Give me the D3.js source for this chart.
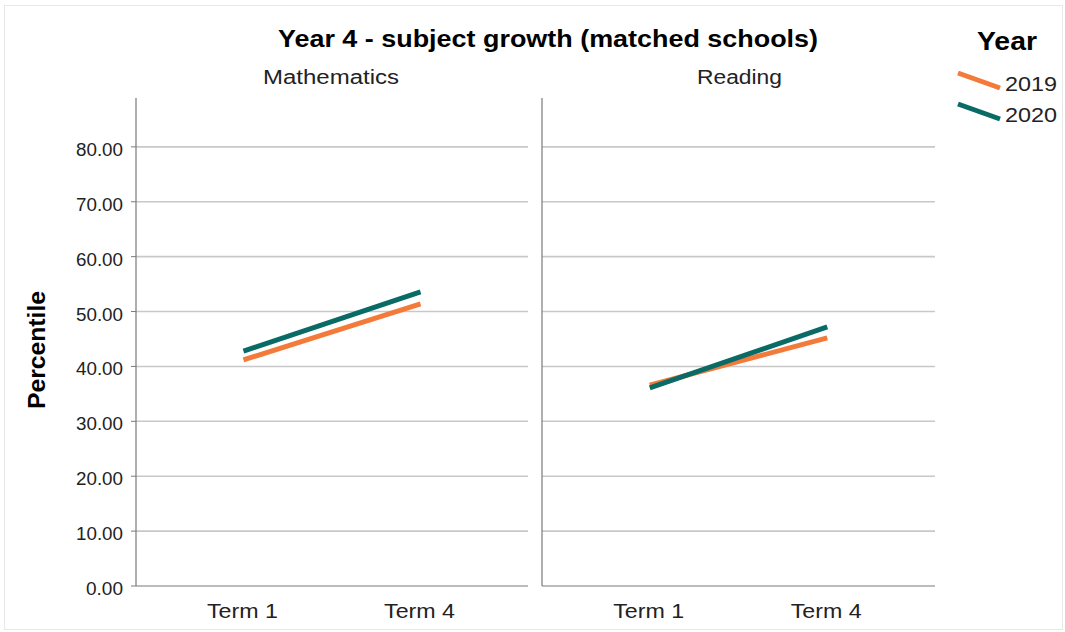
<!DOCTYPE html>
<html><head><meta charset="utf-8">
<script src="https://cdn.jsdelivr.net/npm/d3@7"></script>
<style>body{margin:0;background:#fff;} svg{display:block;font-family:"Liberation Sans",Arial,sans-serif;}</style>
</head><body><svg id="c" width="1065" height="632"></svg>
<script>
const subjects = ["Mathematics", "Reading"];
const terms = ["Term 1", "Term 4"];
const years = ["2019", "2020"];
const math2019 = [41.2, 51.4];
const math2020 = [42.8, 53.6];
const reading2019 = [36.6, 45.2];
const reading2020 = [36.1, 47.2];
const yTicks = [0, 10, 20, 30, 40, 50, 60, 70, 80];
const colors = ["#f47a3a", "#0a6b66"];

const seriesBySubject = {
  "Mathematics": [math2019, math2020],
  "Reading": [reading2019, reading2020]
};

function fit(sel, len) {
  sel.attr("textLength", len).attr("lengthAdjust", "spacingAndGlyphs");
  return sel;
}

const svg = d3.select("#c");
svg.append("rect").attr("x",4.5).attr("y",5.5).attr("width",1058).attr("height",624)
  .attr("fill","#fff").attr("stroke","#e8e8e8");

const plotTop = 98, plotBottom = 586;
const y = d3.scaleLinear().domain([0, 88.9]).range([plotBottom, plotTop]);
const panels = [[136, 528], [542, 935]];

fit(svg.append("text").attr("x",548).attr("y",47).attr("text-anchor","middle")
  .attr("font-size",23).attr("font-weight","bold").attr("fill","#000")
  .text("Year 4 - subject growth (matched schools)"), 540);

const titleLen = {"Mathematics": 136, "Reading": 85};

subjects.forEach((s, i) => {
  const [x0, x1] = panels[i];
  const x = d3.scalePoint().domain(terms).range([x0, x1]).padding(0.607);
  const g = svg.append("g");
  g.selectAll("line.grid").data(yTicks.filter(t => t > 0)).join("line")
    .attr("x1", x0).attr("x2", x1).attr("y1", d => y(d)).attr("y2", d => y(d))
    .attr("stroke", "#c8c8c8").attr("stroke-width", 1.6);
  g.append("line").attr("x1", x0).attr("x2", x0).attr("y1", plotTop).attr("y2", plotBottom)
    .attr("stroke", "#7a7a7a").attr("stroke-width", 1.2);
  g.append("line").attr("x1", x0).attr("x2", x1).attr("y1", plotBottom).attr("y2", plotBottom)
    .attr("stroke", "#7a7a7a").attr("stroke-width", 1.2);
  g.selectAll("text.xl").data(terms).join("text")
    .attr("x", d => x(d) - 1).attr("y", 618).attr("text-anchor", "middle")
    .attr("font-size", 20).attr("fill", "#222")
    .attr("textLength", 71).attr("lengthAdjust", "spacingAndGlyphs").text(d => d);
  fit(g.append("text").attr("x", (x0 + x1) / 2 + (i === 0 ? -1 : 1)).attr("y", 84).attr("text-anchor", "middle")
    .attr("font-size", 20).attr("fill", "#222").text(s), titleLen[s]);
  const line = d3.line().x((d, j) => x(terms[j])).y(d => y(d));
  seriesBySubject[s].forEach((vals, k) => {
    g.append("path").datum(vals).attr("d", line).attr("fill", "none")
      .attr("stroke", colors[k]).attr("stroke-width", 5);
  });
});

const ya = svg.append("g");
ya.selectAll("line").data(yTicks).join("line")
  .attr("x1", 131).attr("x2", 136).attr("y1", d => y(d)).attr("y2", d => y(d))
  .attr("stroke", "#7a7a7a").attr("stroke-width", 1);
ya.selectAll("text").data(yTicks).join("text")
  .attr("x", 123).attr("y", d => y(d) + 9).attr("text-anchor", "end")
  .attr("font-size", 18).attr("fill", "#222")
  .attr("textLength", d => d === 0 ? 37 : 47).attr("lengthAdjust", "spacingAndGlyphs")
  .text(d => d.toFixed(2));

fit(svg.append("text").attr("transform", "translate(45,350) rotate(-90)")
  .attr("text-anchor", "middle").attr("font-size", 23).attr("font-weight", "bold")
  .attr("fill", "#000").text("Percentile"), 118);

fit(svg.append("text").attr("x", 1007).attr("y", 50).attr("text-anchor", "middle")
  .attr("font-size", 26).attr("font-weight", "bold").attr("fill", "#000").text("Year"), 60);
years.forEach((yr, k) => {
  const ly = 73 + k * 31;
  svg.append("line").attr("x1", 958).attr("y1", ly).attr("x2", 1000).attr("y2", ly + 15)
    .attr("stroke", colors[k]).attr("stroke-width", 5);
  fit(svg.append("text").attr("x", 1005).attr("y", ly + 18).attr("font-size", 21)
    .attr("fill", "#222").text(yr), 52);
});
</script></body></html>
